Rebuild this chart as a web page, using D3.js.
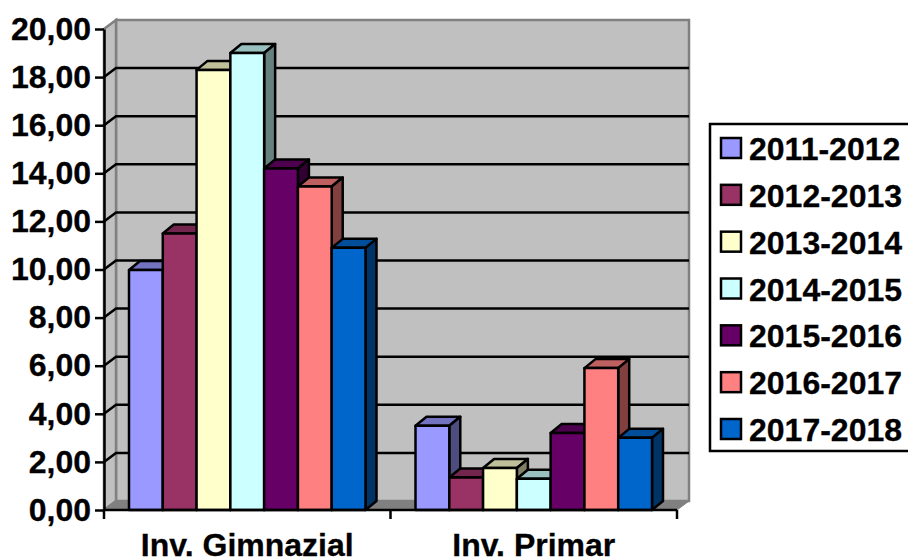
<!DOCTYPE html>
<html>
<head>
<meta charset="utf-8">
<script src="https://cdn.jsdelivr.net/npm/d3@7"></script>
<style>
  html, body { margin: 0; padding: 0; background: #fff; overflow: hidden; }
  text { font-family: "Liberation Sans", Arial, sans-serif; font-weight: bold; fill: #000; stroke: #000; stroke-width: 0.3px; }
</style>
</head>
<body>
<div id="chart"></div>
<script>
var categories = ["Inv. Gimnazial", "Inv. Primar"];
var years = ["2011-2012", "2012-2013", "2013-2014", "2014-2015", "2015-2016", "2016-2017", "2017-2018"];
var gimnazial = [9.98, 11.5, 18.3, 19.0, 14.2, 13.45, 10.9];
var primar = [3.5, 1.35, 1.75, 1.3, 3.2, 5.9, 3.0];
var colors = ["#9999ff", "#993366", "#ffffcc", "#ccffff", "#660066", "#ff8080", "#0066cc"];
var yTicks = [0, 2, 4, 6, 8, 10, 12, 14, 16, 18, 20];

var svgWidth = 908;
var svgHeight = 557;
var fontSize = "32px";
var lineW = 2.5;

// depth of the fake 3d box and of the bars
var wallDx = 12, wallDy = -9;
var barDx = 11, barDy = -9;

var svg = d3.select("#chart")
  .append("svg")
  .attr("width", svgWidth)
  .attr("height", svgHeight)
  .style("display", "block");

var yScale = d3.scaleLinear().domain([0, 20]).range([510, 29]);
var xScale = d3.scaleBand().domain(categories).range([104, 677]);
var barScale = d3.scaleBand().domain(years).range([0, xScale.bandwidth()]).paddingOuter(0.74).paddingInner(0);

var x0 = xScale.range()[0], x1 = xScale.range()[1];
var y0 = yScale(0), yTop = yScale(20);

function pts(a) { return a.map(p => p.join(",")).join(" "); }

// back wall, side wall, floor
svg.append("polygon")
  .attr("points", pts([[x0 + wallDx, yTop + wallDy], [x1 + wallDx, yTop + wallDy], [x1 + wallDx, y0 + wallDy], [x0 + wallDx, y0 + wallDy]]))
  .attr("fill", "#c0c0c0").attr("stroke", "#808080").attr("stroke-width", lineW);
svg.append("polygon")
  .attr("points", pts([[x0, yTop], [x0 + wallDx, yTop + wallDy], [x0 + wallDx, y0 + wallDy], [x0, y0]]))
  .attr("fill", "#c0c0c0").attr("stroke", "#808080").attr("stroke-width", lineW);
svg.append("polygon")
  .attr("points", pts([[x0, y0], [x0 + wallDx, y0 + wallDy], [x1 + wallDx, y0 + wallDy], [x1, y0]]))
  .attr("fill", "#808080").attr("stroke", "#808080").attr("stroke-width", 1);

// gridlines
var gridTicks = yTicks.filter(t => t > 0 && t < 20);
svg.append("g").selectAll("path")
  .data(gridTicks)
  .enter()
  .append("path")
  .attr("d", t => `M${x0},${yScale(t)}L${x0 + wallDx},${yScale(t) + wallDy}H${x1 + wallDx}`)
  .attr("fill", "none")
  .attr("stroke", "#000")
  .attr("stroke-width", lineW);

// bars
var rows = [gimnazial, primar];
var barGroup = svg.append("g");
categories.forEach(function(cat, i) {
  rows[i].forEach(function(v, j) {
    var x = xScale(cat) + barScale(years[j]);
    var w = barScale.bandwidth();
    var y = yScale(v);
    var c = d3.rgb(colors[j]);
    var top = d3.rgb(c.r * 0.75, c.g * 0.75, c.b * 0.75);
    var side = d3.rgb(c.r * 0.5, c.g * 0.5, c.b * 0.5);
    var g = barGroup.append("g")
      .attr("stroke", "#000")
      .attr("stroke-width", lineW)
      .attr("stroke-linejoin", "round");
    g.append("polygon")
      .attr("points", pts([[x, y], [x + barDx, y + barDy], [x + w + barDx, y + barDy], [x + w, y]]))
      .attr("fill", top);
    g.append("polygon")
      .attr("points", pts([[x + w, y], [x + w + barDx, y + barDy], [x + w + barDx, y0 + barDy], [x + w, y0]]))
      .attr("fill", side);
    g.append("rect")
      .attr("x", x).attr("y", y).attr("width", w).attr("height", y0 - y)
      .attr("fill", c);
  });
});

// y axis
var leftAxis = d3.axisLeft(yScale)
  .tickValues(yTicks)
  .tickSize(9)
  .tickPadding(4)
  .tickSizeOuter(0)
  .tickFormat(d => d.toFixed(2).replace(".", ","));
var yAxis = svg.append("g")
  .attr("transform", `translate(${x0}, 0)`)
  .call(leftAxis);
yAxis.selectAll("line").attr("stroke", "#000").attr("stroke-width", lineW);
yAxis.select(".domain").attr("stroke", "#000").attr("stroke-width", lineW);
yAxis.selectAll("text").style("font-size", fontSize).style("font-family", "'Liberation Sans'");

// x axis, ticks sit between the categories
var xAxisG = svg.append("g");
xAxisG.append("line")
  .attr("x1", x0).attr("x2", x1).attr("y1", y0).attr("y2", y0)
  .attr("stroke", "#000").attr("stroke-width", lineW);
xAxisG.selectAll(".xtick")
  .data([x0, xScale(categories[1]), x1])
  .enter()
  .append("line")
  .attr("class", "xtick")
  .attr("x1", d => d).attr("x2", d => d)
  .attr("y1", y0).attr("y2", y0 + 9)
  .attr("stroke", "#000").attr("stroke-width", lineW);
xAxisG.selectAll(".xlabel")
  .data(categories)
  .enter()
  .append("text")
  .attr("class", "xlabel")
  .attr("x", d => xScale(d) + xScale.bandwidth() / 2)
  .attr("y", 556)
  .attr("text-anchor", "middle")
  .style("font-size", fontSize)
  .text(d => d);

// legend, box runs off the right edge like the original
var legendY = d3.scalePoint().domain(years).range([148, 429]);
svg.append("rect")
  .attr("x", 710).attr("y", 124).attr("width", 210).attr("height", 327)
  .attr("fill", "#fff").attr("stroke", "#000").attr("stroke-width", lineW);
var legend = svg.append("g").selectAll("g")
  .data(years)
  .enter()
  .append("g")
  .attr("transform", d => `translate(721, ${legendY(d)})`);
legend.append("rect")
  .attr("x", 0).attr("y", -10).attr("width", 20).attr("height", 20)
  .attr("fill", (d, i) => colors[i])
  .attr("stroke", "#000").attr("stroke-width", lineW);
legend.append("text")
  .attr("x", 28)
  .attr("y", 12)
  .style("font-size", fontSize)
  .text(d => d);
</script>
</body>
</html>
